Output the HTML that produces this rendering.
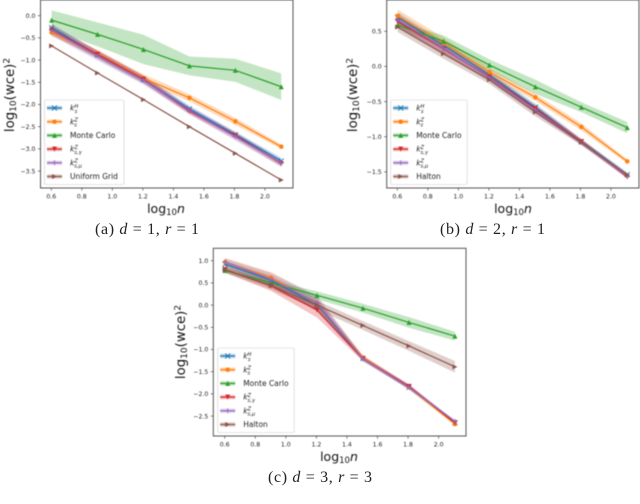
<!DOCTYPE html>
<html>
<head>
<meta charset="utf-8">
<style>
html,body{margin:0;padding:0;background:#fff;width:640px;height:504px;overflow:hidden}
svg{display:block;position:absolute;left:0;top:0}
text{font-family:"DejaVu Sans","Liberation Sans",sans-serif}
svg .cap{font-family:"Liberation Serif",serif;font-size:16px;fill:#222;filter:blur(0.3px)}
.cap .i{font-style:italic}
</style>
</head>
<body>
<svg id="fig" width="640" height="504" viewBox="0 0 640 504" xmlns="http://www.w3.org/2000/svg">
<g id="plots" style="filter:blur(0.45px)"></g>
<text class="cap" x="95" y="234" textLength="104">(a) <tspan class="i">d</tspan> = 1, <tspan class="i">r</tspan> = 1</text>
<text class="cap" x="440" y="234" textLength="105">(b) <tspan class="i">d</tspan> = 2, <tspan class="i">r</tspan> = 1</text>
<text class="cap" x="268" y="482" textLength="104">(c) <tspan class="i">d</tspan> = 3, <tspan class="i">r</tspan> = 3</text>
</svg>
<script>
var xValues = [0.602, 0.903, 1.204, 1.505, 1.806, 2.107];
var xTicks = [0.6, 0.8, 1.0, 1.2, 1.4, 1.6, 1.8, 2.0];
var seriesColors = ['#1f77b4', '#ff7f0e', '#2ca02c', '#d62728', '#9467bd', '#8c564b'];
var seriesMarkers = ['x', 'o', '^', 'v', '+', '>'];

var aTicks = [0.0, -0.5, -1.0, -1.5, -2.0, -2.5, -3.0, -3.5];
var aLabels = ['kH', 'kZ', 'Monte Carlo', 'kZg', 'kZm', 'Uniform Grid'];
var aH = [-0.27, -0.88, -1.44, -2.10, -2.68, -3.27];
var aZ = [-0.38, -0.85, -1.41, -1.85, -2.38, -2.95];
var aMC = [-0.10, -0.42, -0.76, -1.13, -1.23, -1.60];
var aG = [-0.32, -0.87, -1.43, -2.15, -2.70, -3.33];
var aM = [-0.33, -0.90, -1.45, -2.13, -2.72, -3.32];
var aU = [-0.68, -1.29, -1.89, -2.50, -3.10, -3.70];
var aBandH = [0.09, 0.08, 0.08, 0.07, 0.07, 0.07];
var aBandZ = [0.08, 0.08, 0.09, 0.08, 0.08, 0.05];
var aBandMC = [0.22, 0.27, 0.33, 0.21, 0.26, 0.30];
var aBandG = [0.10, 0.09, 0.08, 0.07, 0.07, 0.07];
var aBandM = [0.12, 0.11, 0.10, 0.09, 0.09, 0.08];
var aBandU = [0.01, 0.01, 0.01, 0.01, 0.01, 0.01];

var bTicks = [0.5, 0.0, -0.5, -1.0, -1.5];
var bLabels = ['kH', 'kZ', 'Monte Carlo', 'kZg', 'kZm', 'Halton'];
var bH = [0.70, 0.30, -0.12, -0.58, -1.07, -1.54];
var bZ = [0.72, 0.33, -0.08, -0.44, -0.86, -1.35];
var bMC = [0.59, 0.36, 0.02, -0.29, -0.58, -0.87];
var bG = [0.64, 0.25, -0.15, -0.60, -1.07, -1.57];
var bM = [0.66, 0.26, -0.16, -0.62, -1.08, -1.56];
var bHal = [0.56, 0.18, -0.19, -0.65, -1.08, -1.54];
var bBandH = [0.07, 0.06, 0.05, 0.05, 0.04, 0.03];
var bBandZ = [0.09, 0.08, 0.06, 0.05, 0.05, 0.03];
var bBandMC = [0.05, 0.08, 0.08, 0.10, 0.07, 0.08];
var bBandG = [0.07, 0.06, 0.05, 0.05, 0.04, 0.03];
var bBandM = [0.08, 0.07, 0.06, 0.05, 0.04, 0.03];
var bBandHal = [0.07, 0.07, 0.06, 0.06, 0.04, 0.03];

var cTicks = [1.0, 0.5, 0.0, -0.5, -1.0, -1.5, -2.0, -2.5];
var cLabels = ['kH', 'kZ', 'Monte Carlo', 'kZg', 'kZm', 'Halton'];
var cH = [0.92, 0.56, 0.00, -1.20, -1.85, -2.65];
var cZ = [0.97, 0.62, 0.03, -1.18, -1.85, -2.68];
var cMC = [0.78, 0.50, 0.22, -0.07, -0.39, -0.70];
var cG = [0.80, 0.43, -0.11, -1.21, -1.83, -2.65];
var cM = [0.97, 0.58, 0.05, -1.21, -1.85, -2.62];
var cHal = [0.80, 0.44, 0.00, -0.46, -0.92, -1.39];
var cBandH = [0.08, 0.10, 0.14, 0.05, 0.05, 0.03];
var cBandZ = [0.09, 0.12, 0.15, 0.05, 0.05, 0.03];
var cBandMC = [0.05, 0.06, 0.09, 0.10, 0.12, 0.10];
var cBandG = [0.07, 0.11, 0.17, 0.06, 0.05, 0.03];
var cBandM = [0.08, 0.15, 0.17, 0.05, 0.05, 0.03];
var cBandHal = [0.07, 0.08, 0.10, 0.10, 0.11, 0.13];

var NS = 'http://www.w3.org/2000/svg';
var root = document.getElementById('plots');

function mk(parent, tag, attrs, txt) {
  var e = document.createElementNS(NS, tag);
  for (var k in attrs) e.setAttribute(k, attrs[k]);
  if (txt !== undefined) e.textContent = txt;
  parent.appendChild(e);
  return e;
}

function fmt(v) {
  return v.toFixed(1).replace('-', '\u2212');
}

function marker(g, type, x, y, color, r) {
  var m;
  var s = x + ',' + y;
  if (type === 'o') {
    m = mk(g, 'circle', {cx: x, cy: y, r: r * 0.9, fill: color});
  } else if (type === 'x') {
    m = mk(g, 'path', {d: 'M' + (x - r) + ' ' + (y - r) + 'L' + (x + r) + ' ' + (y + r) + 'M' + (x - r) + ' ' + (y + r) + 'L' + (x + r) + ' ' + (y - r), stroke: color, 'stroke-width': 0.9, fill: 'none'});
  } else if (type === '+') {
    m = mk(g, 'path', {d: 'M' + (x - r) + ' ' + y + 'L' + (x + r) + ' ' + y + 'M' + x + ' ' + (y - r) + 'L' + x + ' ' + (y + r), stroke: color, 'stroke-width': 0.9, fill: 'none'});
  } else {
    var rot = type === '^' ? 0 : type === 'v' ? 180 : 90;
    m = mk(g, 'polygon', {points: x + ',' + (y - r) + ' ' + (x + r) + ',' + (y + r) + ' ' + (x - r) + ',' + (y + r), fill: color, transform: 'rotate(' + rot + ' ' + s + ')'});
  }
  
  
}

function legendText(g, x, y, label) {
  var t = mk(g, 'text', {x: x, y: y, 'font-size': 7.5, fill: '#222'});
  
  
  if (label.charAt(0) !== 'k' || label.length > 3) {
    t.textContent = label;
    return;
  }
  var sup = label.charAt(1);
  var sub = label.length === 2 ? 's' : (label.charAt(2) === 'g' ? 's,\u03b3' : 's,\u03bc');
  mk(t, 'tspan', {'font-style': 'italic'}, 'k');
  mk(t, 'tspan', {dy: -2.8, 'font-size': 5.2, 'font-style': 'italic'}, sup);
  mk(t, 'tspan', {dx: -3.6, dy: 5, 'font-size': 5.2, 'font-style': 'italic'}, sub);
}

function drawChart(o) {
  var g = mk(root, 'g', {});
  
  

  function X(v) { return o.x0 + (v - 0.6) * o.xs; }
  function Y(v) { return o.y0 - (v - o.yRef) * o.ys; }

  var clipId = o.name + '-clip';
  var defs = mk(g, 'defs', {});
  var cp = mk(defs, 'clipPath', {id: clipId});
  mk(cp, 'rect', {x: o.l, y: o.t, width: o.r - o.l, height: o.b - o.t});
  var plot = mk(g, 'g', {'clip-path': 'url(#' + clipId + ')'});

  o.series.forEach(function (vals, i) {
    var band = o.bands[i];
    var up = vals.map(function (v, j) { return X(xValues[j]) + ',' + Y(v + band[j]); });
    var lo = vals.map(function (v, j) { return X(xValues[j]) + ',' + Y(v - band[j]); }).reverse();
    var p = mk(plot, 'polygon', {points: up.concat(lo).join(' '), fill: seriesColors[i], 'fill-opacity': 0.28});
    
    
  });
  o.series.forEach(function (vals, i) {
    var pts = vals.map(function (v, j) { return X(xValues[j]) + ',' + Y(v); }).join(' ');
    var l = mk(plot, 'polyline', {points: pts, fill: 'none', stroke: seriesColors[i], 'stroke-width': 1.25});
    
    
    vals.forEach(function (v, j) {
      marker(plot, seriesMarkers[i], X(xValues[j]), Y(v), seriesColors[i], 2.5);
    });
  });

  var frame = mk(g, 'rect', {x: o.l, y: o.t, width: o.r - o.l, height: o.b - o.t, fill: 'none', stroke: '#555', 'stroke-width': 1});
  
  

  xTicks.forEach(function (v) {
    var x = X(v);
    var tick = mk(g, 'line', {x1: x, x2: x, y1: o.b, y2: o.b + 2.6, stroke: '#333', 'stroke-width': 0.6});
    
    
    var label = mk(g, 'text', {x: x, y: o.b + 10.5, 'font-size': 6.2, fill: '#222', 'text-anchor': 'middle'}, v.toFixed(1));
    
    
  });
  o.yTicks.forEach(function (v) {
    var y = Y(v);
    var tick = mk(g, 'line', {x1: o.l - 2.6, x2: o.l, y1: y, y2: y, stroke: '#333', 'stroke-width': 0.6});
    
    
    var label = mk(g, 'text', {x: o.l - 5, y: y + 2.2, 'font-size': 6.2, fill: '#222', 'text-anchor': 'end'}, fmt(v));
    
    
  });

  var xl = mk(g, 'text', {x: o.xlx, y: o.b + 25, 'font-size': 12.5, fill: '#111', 'text-anchor': 'middle'});
  
  
  mk(xl, 'tspan', {}, 'log');
  mk(xl, 'tspan', {dy: 2, 'font-size': 8.5}, '10');
  mk(xl, 'tspan', {dy: -2, 'font-style': 'italic'}, 'n');

  var yl = mk(g, 'text', {x: 0, y: 0, 'font-size': 13.3, fill: '#111', 'text-anchor': 'middle', transform: 'translate(' + o.ylx + ' ' + o.yly + ') rotate(-90)'});
  
  
  mk(yl, 'tspan', {}, 'log');
  mk(yl, 'tspan', {dy: 2, 'font-size': 9}, '10');
  mk(yl, 'tspan', {dy: -2}, '(wce)');
  mk(yl, 'tspan', {dy: -4.5, 'font-size': 9}, '2');

  var lg = mk(g, 'g', {});
  
  
  var box = mk(lg, 'rect', {x: o.lgx, y: o.lgy, width: o.lgw, height: 84.5, rx: 1.5, fill: '#fff', 'fill-opacity': 0.85, stroke: '#ccc', 'stroke-width': 0.6});
  
  
  o.labels.forEach(function (label, i) {
    var y = o.lgy + 8 + i * 13.7;
    var sw = mk(lg, 'rect', {x: o.lgx + 2.5, y: y - 2.2, width: 15, height: 4.4, fill: seriesColors[i], 'fill-opacity': 0.28});
    
    
    var ln = mk(lg, 'line', {x1: o.lgx + 2.5, x2: o.lgx + 17.5, y1: y, y2: y, stroke: seriesColors[i], 'stroke-width': 1.25});
    
    
    marker(lg, seriesMarkers[i], o.lgx + 10, y, seriesColors[i], 2.5);
    legendText(lg, o.lgx + 25.5, y + 2.6, label);
  });
}

drawChart({
  name: 'chart-a', l: 40.5, r: 293, t: 0, b: 188, x0: 51.3, xs: 152.6, y0: 15.7, yRef: 0, ys: 44.4,
  yTicks: aTicks, labels: aLabels,
  series: [aH, aZ, aMC, aG, aM, aU],
  bands: [aBandH, aBandZ, aBandMC, aBandG, aBandM, aBandU],
  xlx: 166, ylx: 14, yly: 95, lgx: 44.5, lgy: 100, lgw: 79.5
});
drawChart({
  name: 'chart-b', l: 386.7, r: 639, t: 0, b: 188, x0: 397.3, xs: 152.6, y0: 31.3, yRef: 0.5, ys: 70.3,
  yTicks: bTicks, labels: bLabels,
  series: [bH, bZ, bMC, bG, bM, bHal],
  bands: [bBandH, bBandZ, bBandMC, bBandG, bBandM, bBandHal],
  xlx: 513, ylx: 357, yly: 95, lgx: 390.7, lgy: 100, lgw: 76.5
});
drawChart({
  name: 'chart-c', l: 213.3, r: 466, t: 248.3, b: 436, x0: 224.7, xs: 152.8, y0: 260.7, yRef: 1, ys: 44.4,
  yTicks: cTicks, labels: cLabels,
  series: [cH, cZ, cMC, cG, cM, cHal],
  bands: [cBandH, cBandZ, cBandMC, cBandG, cBandM, cBandHal],
  xlx: 339, ylx: 185, yly: 342, lgx: 217.7, lgy: 348, lgw: 76.5
});
</script>
</body>
</html>
